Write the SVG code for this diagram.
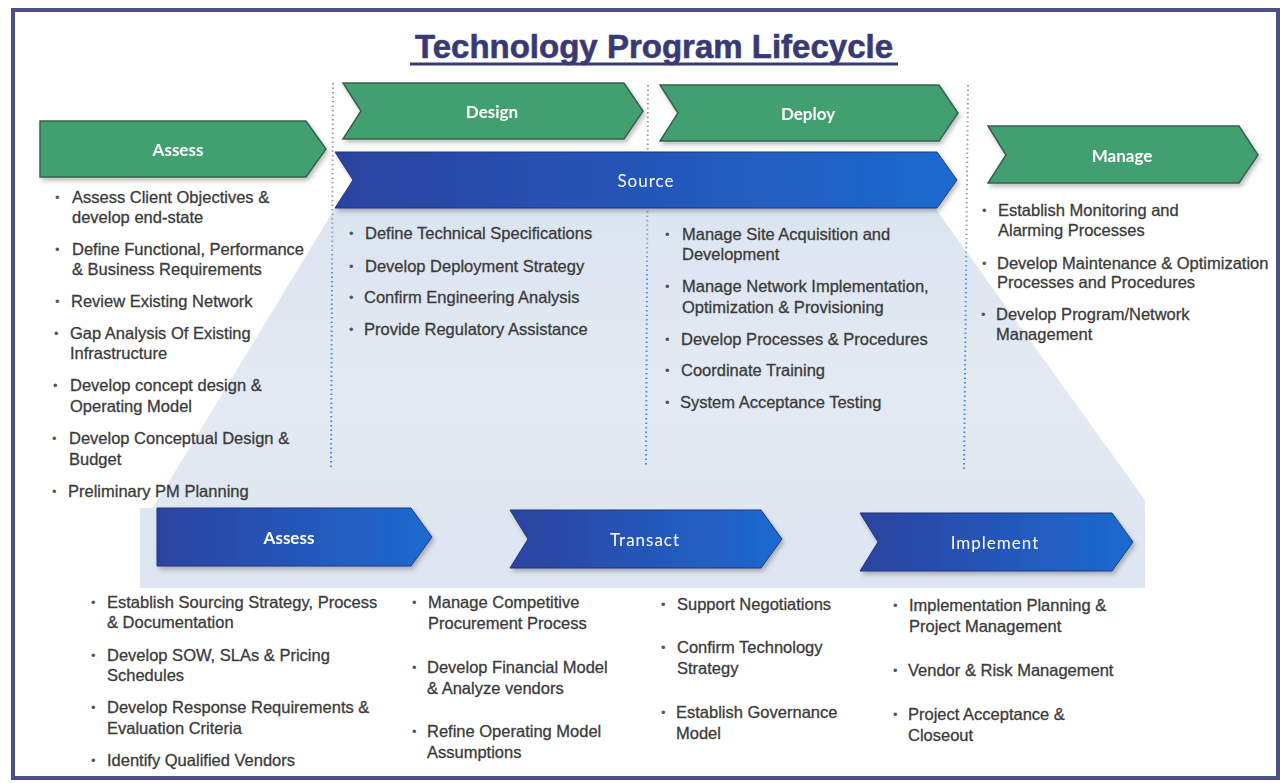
<svg xmlns="http://www.w3.org/2000/svg" width="1283" height="783" viewBox="0 0 1283 783">
  <defs>
    <style>
      .frame { fill: #ffffff; stroke: #4b5089; stroke-width: 4; }
      .title { font-family: "Liberation Sans", Arial, sans-serif; font-weight: bold; font-size: 33px; fill: #393a74; stroke: #393a74; stroke-width: 0.6; }
      .green { fill: #43a070; stroke: #35614c; stroke-width: 1.5; stroke-linejoin: miter; }
      .blue { fill: url(#blueGrad); stroke: #24357e; stroke-width: 1; }
      .lab { font-family: Lato, "Open Sans", "Liberation Sans", sans-serif; font-size: 17px; fill: #ffffff; text-anchor: middle; dominant-baseline: central; }
      .labB { font-weight: bold; }
      .labS { letter-spacing: 1px; }
      .txt { font-family: "Liberation Sans", Arial, sans-serif; font-size: 16.5px; fill: #3b3b3b; stroke: #3b3b3b; stroke-width: 0.3; }
      .bul { font-family: "Liberation Sans", Arial, sans-serif; font-size: 13px; fill: #555555; }
      .dots { fill: none; stroke: url(#dotGrad); stroke-width: 2; stroke-dasharray: 1.5 3; }
    </style>
    <linearGradient id="blueGrad" x1="0" y1="0" x2="1" y2="0">
      <stop offset="0" stop-color="#2b43a0"/>
      <stop offset="1" stop-color="#1d6ad0"/>
    </linearGradient>
    <linearGradient id="panelGrad" x1="0" y1="0" x2="0" y2="1">
      <stop offset="0" stop-color="#dbe5f0"/>
      <stop offset="0.5" stop-color="#e3eaf3"/>
      <stop offset="1" stop-color="#dce5f0"/>
    </linearGradient>
    <linearGradient id="dotGrad" gradientUnits="userSpaceOnUse" x1="0" y1="83" x2="0" y2="470">
      <stop offset="0" stop-color="#9a9a9a"/>
      <stop offset="0.42" stop-color="#9aa4b4"/>
      <stop offset="0.5" stop-color="#4f8fe0"/>
      <stop offset="1" stop-color="#3f86dc"/>
    </linearGradient>
    <filter id="shadow" x="-5%" y="-20%" width="110%" height="150%">
      <feDropShadow dx="2" dy="3" stdDeviation="2" flood-color="#000000" flood-opacity="0.25"/>
    </filter>
  </defs>

  <!-- page frame -->
  <rect class="frame" x="13" y="10" width="1265" height="768"/>

  <!-- light blue funnel panel behind the sourcing steps -->
  <polygon fill="url(#panelGrad)" points="335,208 935,208 1145,500 1145,588 140,588 140,508 153,508"/>

  <!-- title -->
  <g id="title">
    <text class="title" x="654" y="58" text-anchor="middle">Technology Program Lifecycle</text>
    <line x1="410" y1="64" x2="898" y2="64" stroke="#393a74" stroke-width="3"/>
  </g>

  <!-- column separators -->
  <g id="connectors">
    <line class="dots" x1="333" y1="83" x2="331" y2="467"/>
    <line class="dots" x1="648" y1="85" x2="646" y2="467"/>
    <line class="dots" x1="968" y1="85" x2="964" y2="470"/>
  </g>

  <!-- lifecycle phases -->
  <g id="phase-assess" filter="url(#shadow)">
    <polygon class="green" points="40,121 306,121 326,149 306,177 40,177"/>
    <text class="lab labB" x="178" y="149">Assess</text>
  </g>
  <g id="phase-design" filter="url(#shadow)">
    <polygon class="green" points="343,83 624,83 643,111 624,139 343,139 361,111"/>
    <text class="lab labB" x="492" y="111">Design</text>
  </g>
  <g id="phase-deploy" filter="url(#shadow)">
    <polygon class="green" points="660,85 939,85 958,113 939,141 660,141 678,113"/>
    <text class="lab labB" x="808" y="113">Deploy</text>
  </g>
  <g id="phase-source" filter="url(#shadow)">
    <polygon class="blue" points="335,152 937,152 957,180 937,208 335,208 353,180"/>
    <text class="lab labS" x="646" y="180">Source</text>
  </g>
  <g id="phase-manage" filter="url(#shadow)">
    <polygon class="green" points="988,126 1239,126 1258,155 1239,183 988,183 1006,155"/>
    <text class="lab labB" x="1122" y="155">Manage</text>
  </g>

  <!-- sourcing sub-steps -->
  <g id="step-assess" filter="url(#shadow)">
    <polygon class="blue" points="157,508 411,508 432,537 411,566 157,566"/>
    <text class="lab labB" x="289" y="537">Assess</text>
  </g>
  <g id="step-transact" filter="url(#shadow)">
    <polygon class="blue" points="510,510 761,510 782,539 761,568 510,568 528,539"/>
    <text class="lab labS" x="645" y="539">Transact</text>
  </g>
  <g id="step-implement" filter="url(#shadow)">
    <polygon class="blue" points="860,513 1112,513 1133,542 1112,571 860,571 878,542"/>
    <text class="lab labS" x="995" y="542">Implement</text>
  </g>

  <!-- assess activities -->
  <g id="list-assess">
    <text class="bul" x="55" y="202">•</text>
    <text class="txt" x="72" y="203">Assess Client Objectives &amp;<tspan x="72" y="223">develop end-state</tspan></text>
    <text class="bul" x="55" y="254">•</text>
    <text class="txt" x="72" y="255">Define Functional, Performance<tspan x="72" y="275">&amp; Business Requirements</tspan></text>
    <text class="bul" x="55" y="306">•</text>
    <text class="txt" x="71" y="307">Review Existing Network</text>
    <text class="bul" x="54" y="338">•</text>
    <text class="txt" x="70" y="339">Gap Analysis Of Existing<tspan x="70" y="359">Infrastructure</tspan></text>
    <text class="bul" x="53" y="390">•</text>
    <text class="txt" x="70" y="391">Develop concept design &amp;<tspan x="70" y="412">Operating Model</tspan></text>
    <text class="bul" x="52" y="443">•</text>
    <text class="txt" x="69" y="444">Develop Conceptual Design &amp;<tspan x="69" y="465">Budget</tspan></text>
    <text class="bul" x="52" y="496">•</text>
    <text class="txt" x="68" y="497">Preliminary PM Planning</text>
  </g>

  <!-- design activities -->
  <g id="list-design">
    <text class="bul" x="349" y="238">•</text>
    <text class="txt" x="365" y="239">Define Technical Specifications</text>
    <text class="bul" x="349" y="271">•</text>
    <text class="txt" x="365" y="272">Develop Deployment Strategy</text>
    <text class="bul" x="349" y="302">•</text>
    <text class="txt" x="364" y="303">Confirm Engineering Analysis</text>
    <text class="bul" x="349" y="334">•</text>
    <text class="txt" x="364" y="335">Provide Regulatory Assistance</text>
  </g>

  <!-- deploy activities -->
  <g id="list-deploy">
    <text class="bul" x="665" y="239">•</text>
    <text class="txt" x="682" y="240">Manage Site Acquisition and<tspan x="682" y="260">Development</tspan></text>
    <text class="bul" x="665" y="291">•</text>
    <text class="txt" x="682" y="292">Manage Network Implementation,<tspan x="682" y="313">Optimization &amp; Provisioning</tspan></text>
    <text class="bul" x="665" y="344">•</text>
    <text class="txt" x="681" y="345">Develop Processes &amp; Procedures</text>
    <text class="bul" x="665" y="375">•</text>
    <text class="txt" x="681" y="376">Coordinate Training</text>
    <text class="bul" x="665" y="407">•</text>
    <text class="txt" x="680" y="408">System Acceptance Testing</text>
  </g>

  <!-- manage activities -->
  <g id="list-manage">
    <text class="bul" x="982" y="215">•</text>
    <text class="txt" x="998" y="216">Establish Monitoring and<tspan x="998" y="236">Alarming Processes</tspan></text>
    <text class="bul" x="982" y="268">•</text>
    <text class="txt" x="997" y="269">Develop Maintenance &amp; Optimization<tspan x="997" y="288">Processes and Procedures</tspan></text>
    <text class="bul" x="981" y="319">•</text>
    <text class="txt" x="996" y="320">Develop Program/Network<tspan x="996" y="340">Management</tspan></text>
  </g>

  <!-- sourcing: assess activities -->
  <g id="list-src-assess">
    <text class="bul" x="91" y="607">•</text>
    <text class="txt" x="107" y="608">Establish Sourcing Strategy, Process<tspan x="107" y="628">&amp; Documentation</tspan></text>
    <text class="bul" x="91" y="660">•</text>
    <text class="txt" x="107" y="661">Develop SOW, SLAs &amp; Pricing<tspan x="107" y="681">Schedules</tspan></text>
    <text class="bul" x="91" y="712">•</text>
    <text class="txt" x="107" y="713">Develop Response Requirements &amp;<tspan x="107" y="734">Evaluation Criteria</tspan></text>
    <text class="bul" x="91" y="765">•</text>
    <text class="txt" x="107" y="766">Identify Qualified Vendors</text>
  </g>

  <!-- sourcing: transact activities (left) -->
  <g id="list-src-transact">
    <text class="bul" x="412" y="607">•</text>
    <text class="txt" x="428" y="608">Manage Competitive<tspan x="428" y="629">Procurement Process</tspan></text>
    <text class="bul" x="412" y="672">•</text>
    <text class="txt" x="427" y="673">Develop Financial Model<tspan x="427" y="694">&amp; Analyze vendors</tspan></text>
    <text class="bul" x="412" y="736">•</text>
    <text class="txt" x="427" y="737">Refine Operating Model<tspan x="427" y="758">Assumptions</tspan></text>
  </g>

  <!-- sourcing: transact activities (right) -->
  <g id="list-src-negotiate">
    <text class="bul" x="661" y="609">•</text>
    <text class="txt" x="677" y="610">Support Negotiations</text>
    <text class="bul" x="661" y="652">•</text>
    <text class="txt" x="677" y="653">Confirm Technology<tspan x="677" y="674">Strategy</tspan></text>
    <text class="bul" x="661" y="717">•</text>
    <text class="txt" x="676" y="718">Establish Governance<tspan x="676" y="739">Model</tspan></text>
  </g>

  <!-- sourcing: implement activities -->
  <g id="list-src-implement">
    <text class="bul" x="893" y="610">•</text>
    <text class="txt" x="909" y="611">Implementation Planning &amp;<tspan x="909" y="632">Project Management</tspan></text>
    <text class="bul" x="893" y="675">•</text>
    <text class="txt" x="908" y="676">Vendor &amp; Risk Management</text>
    <text class="bul" x="893" y="719">•</text>
    <text class="txt" x="908" y="720">Project Acceptance &amp;<tspan x="908" y="741">Closeout</tspan></text>
  </g>
</svg>
